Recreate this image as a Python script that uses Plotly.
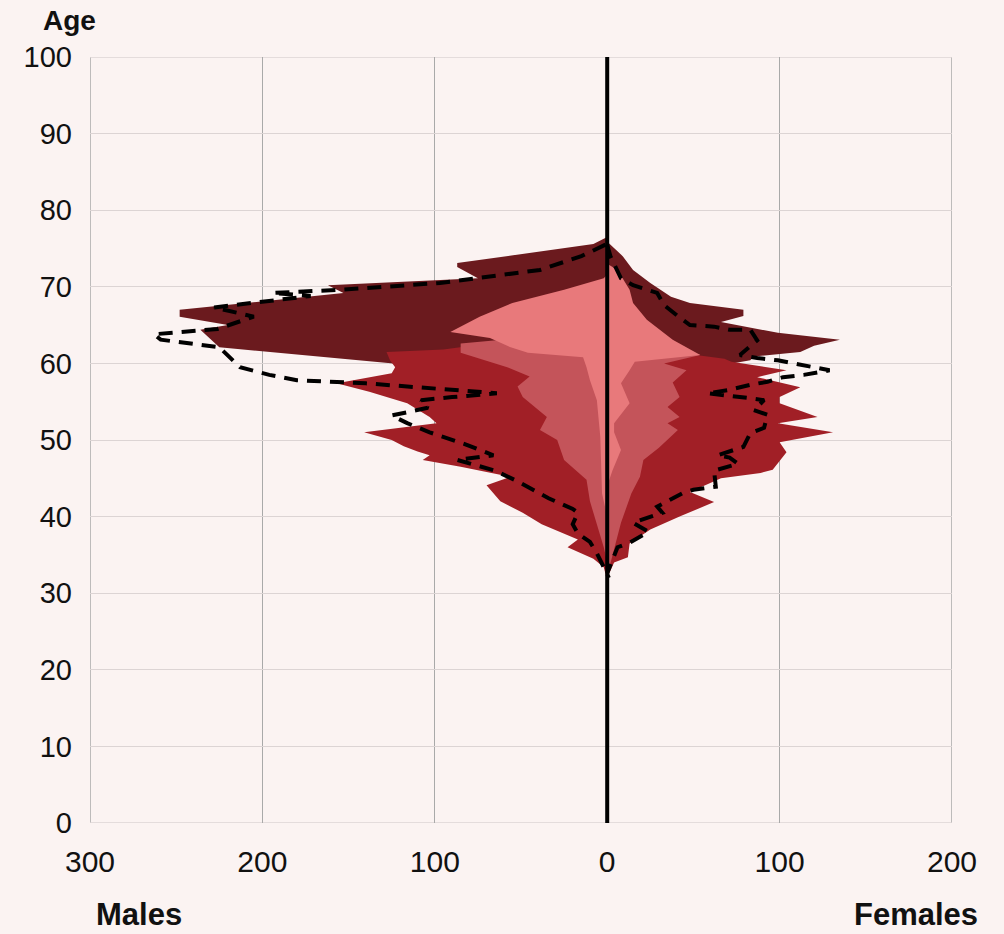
import plotly.graph_objects as go

# ---------------- data (counts per age; males stored as positive numbers) ----------------
male_dark_age = [76.5, 75.6, 73.1, 72.6, 71.1, 70.2, 69.2, 67.0, 66.1, 65.0, 64.4, 62.1, 60.0, 59.0, 55.0, 45.0, 33.0]
male_dark_val = [0, 8, 87, 87, 75, 162, 153, 248, 248, 220, 236, 225, 124, 100, 80, 40, 0]

male_red_age = [63.5, 61.8, 61.5, 60.4, 59.5, 58.7, 57.6, 57.4, 56.3, 54.8, 53.0, 52.2, 51.0, 50.0, 49.2, 48.5,
                48.0, 47.4, 46.5, 45.2, 44.1, 42.0, 40.5, 39.0, 37.0, 36.0, 34.5, 33.4, 31.7]
male_red_val = [40, 95, 128, 126, 123, 125, 152, 157, 138, 116, 103, 99, 141, 125, 118, 110,
                103, 107, 85, 56, 70, 62, 49, 38, 17, 23, 8, 2, 0]

male_med_age = [63.2, 62.6, 61.4, 59.5, 58.3, 57.0, 55.6, 53.0, 51.3, 50.0, 47.4, 44.8, 42.0, 40.5, 36.0, 34.0]
male_med_val = [55, 85, 85, 58, 45, 52, 49, 35, 39, 29, 25, 12, 10, 8, 2, 0]

male_light_age = [71.6, 71.1, 69.6, 67.9, 66.1, 64.1, 63.3, 62.1, 61.4, 60.8, 59.5, 57.8, 55.2, 50.4, 43.0, 40.0]
male_light_val = [0, 2, 25, 55, 74, 91, 68, 56, 46, 14, 12, 10, 6, 4, 3, 0]

female_dark_age = [76.2, 75.7, 74.0, 72.2, 70.5, 68.7, 67.9, 67.0, 66.2, 65.4, 64.0, 63.1, 62.3, 61.5, 60.9,
                   60.4, 59.5, 55.0, 45.0, 33.0]
female_dark_val = [0, 1, 9, 15, 25, 37, 48, 79, 79, 66, 99, 135, 120, 112, 85, 83, 60, 50, 30, 0]

female_red_age = [61.3, 60.6, 60.2, 59.1, 58.2, 56.9, 55.6, 54.8, 53.0, 52.2, 51.0, 49.7, 48.4, 46.1, 45.7,
                  45.0, 43.2, 41.9, 40.0, 38.3, 36.5, 34.7, 34.0, 32.0]
female_red_val = [45, 68, 72, 104, 87, 112, 100, 100, 122, 99, 131, 100, 104, 96, 89,
                  66, 48, 62, 42, 25, 13, 12, 4, 0]

female_med_age = [62.0, 61.1, 60.0, 59.1, 57.5, 55.6, 54.3, 53.0, 52.2, 51.3, 49.0, 47.4, 45.2, 43.0, 39.2, 34.0, 33.0]
female_med_val = [40, 54, 33, 46, 38, 42, 35, 42, 35, 41, 30, 21, 19, 14, 8, 2, 0]

female_light_age = [73.0, 72.2, 69.6, 67.9, 65.7, 63.1, 61.1, 60.2, 59.1, 57.4, 54.8, 52.2, 51.0, 48.7, 46.0, 44.0]
female_light_val = [0, 6, 13, 15, 23, 38, 54, 16, 13, 8, 13, 4, 4, 8, 3, 0]

male_dash_age = [75.5, 74.0, 72.2, 70.5, 69.6, 69.2, 68.8, 67.3, 66.1, 64.5, 63.8, 63.1, 62.1, 60.8, 59.5, 58.5,
                 57.8, 57.4, 56.9, 56.1, 55.6, 55.2, 54.2, 53.2, 52.2, 51.0, 49.5, 48.0, 47.4, 46.0, 44.6,
                 42.4, 41.0, 40.5, 39.0, 37.8, 36.7, 35.2, 33.4, 32.0]
male_dash_val = [1, 15, 39, 97, 155, 194, 172, 228, 205, 226, 263, 259, 225, 219, 213, 196,
                 180, 140, 108, 64, 90, 108, 104, 125, 116, 103, 83, 66, 87, 65, 52,
                 34, 20, 17, 20, 17, 10, 6, 2, -1]

female_dash_age = [75.5, 73.9, 71.1, 70.2, 69.2, 67.6, 66.0, 65.0, 64.8, 64.4, 64.4, 63.0, 61.1, 60.7, 60.4,
                   59.8, 59.1, 58.5, 58.2, 57.6, 57.2, 56.5, 56.1, 55.5, 55.2, 53.9, 53.3, 51.6, 50.9, 49.1,
                   48.0, 47.7, 46.9, 46.0, 43.9, 43.5, 43.1, 41.3, 40.5, 39.2, 38.0, 36.6, 36.0, 32.6]
female_dash_val = [0, 2, 8, 15, 29, 33, 42, 48, 62, 71, 83, 87, 77, 87, 99,
                   112, 129, 114, 102, 93, 83, 70, 58, 81, 91, 85, 93, 91, 83, 79,
                   64, 71, 76, 62, 63, 50, 44, 29, 32, 15, 24, 13, 6, 0]

x_tickvals = [-300, -200, -100, 0, 100, 200]
x_ticktext = ["300", "200", "100", "0", "100", "200"]
y_tickvals = list(range(0, 101, 10))
x_min, x_max = -300, 200
y_min, y_max = 0, 100

# ---------------- styling ----------------
C_DARK = "#6B1A1E"
C_RED = "#A11F26"
C_MED = "#C4545A"
C_LIGHT = "#E8797B"
BG = "#FBF3F2"
FONT = "Arial, Liberation Sans, sans-serif"
VGRID = "#A9A9A9"
HGRID = "#DCD4D4"

fig = go.Figure()

layers = [
    (male_dark_age, male_dark_val, female_dark_age, female_dark_val, C_DARK),
    (male_red_age, male_red_val, female_red_age, female_red_val, C_RED),
    (male_med_age, male_med_val, female_med_age, female_med_val, C_MED),
    (male_light_age, male_light_val, female_light_age, female_light_val, C_LIGHT),
]
for ma, mv, fa, fv, col in layers:
    fig.add_trace(go.Scatter(x=[-v for v in mv], y=ma, mode="lines", fill="tozerox",
                             fillcolor=col, line=dict(width=0, color=col), hoverinfo="skip"))
    fig.add_trace(go.Scatter(x=fv, y=fa, mode="lines", fill="tozerox",
                             fillcolor=col, line=dict(width=0, color=col), hoverinfo="skip"))

fig.add_trace(go.Scatter(x=[-v for v in male_dash_val], y=male_dash_age, mode="lines",
                         line=dict(color="black", width=4, dash="14px,9px")))
fig.add_trace(go.Scatter(x=female_dash_val, y=female_dash_age, mode="lines",
                         line=dict(color="black", width=4, dash="14px,9px")))

# plot-area border lines (grid at range ends)
for xv in (x_min, x_max):
    fig.add_shape(type="line", x0=xv, x1=xv, y0=y_min, y1=y_max, xref="x", yref="y",
                  line=dict(color=VGRID, width=1.5), layer="below")
for yv in (y_min, y_max):
    fig.add_shape(type="line", x0=x_min, x1=x_max, y0=yv, y1=yv, xref="x", yref="y",
                  line=dict(color=HGRID, width=1.5), layer="below")

fig.add_shape(type="line", x0=0, x1=0, y0=y_min, y1=y_max, xref="x", yref="y",
              line=dict(color="black", width=4), layer="above")

fig.update_layout(
    width=1004, height=934,
    margin=dict(l=90, r=52, t=57, b=111),
    paper_bgcolor=BG, plot_bgcolor=BG,
    showlegend=False,
    font=dict(family=FONT, color="#111111"),
    xaxis=dict(range=[x_min, x_max], tickvals=x_tickvals, ticktext=x_ticktext,
               showgrid=True, gridcolor=VGRID, gridwidth=1, zeroline=False,
               showline=False, ticks="", tickfont=dict(size=30, family=FONT),
               ticklabelstandoff=18, fixedrange=True),
    yaxis=dict(range=[y_min, y_max], tickvals=y_tickvals, showgrid=True, gridcolor=HGRID,
               gridwidth=1, zeroline=False, showline=False, ticks="",
               tickfont=dict(size=29, family=FONT), ticklabelstandoff=17, fixedrange=True),
    annotations=[
        dict(text="<b>Age</b>", xref="paper", yref="paper", x=-0.024, y=1.047,
             xanchor="center", yanchor="middle", showarrow=False, font=dict(size=28, family=FONT, color="#111")),
        dict(text="<b>Males</b>", xref="paper", yref="paper", x=0.057, y=-0.12,
             xanchor="center", yanchor="middle", showarrow=False, font=dict(size=31, family=FONT, color="#111")),
        dict(text="<b>Females</b>", xref="paper", yref="paper", x=0.958, y=-0.12,
             xanchor="center", yanchor="middle", showarrow=False, font=dict(size=31, family=FONT, color="#111")),
    ],
)

fig.write_html(
    "out.html",
    config={"displayModeBar": False},
    post_script="document.body.style.margin='0';document.body.style.background='%s';"
                "document.documentElement.style.background='%s';" % (BG, BG),
)
